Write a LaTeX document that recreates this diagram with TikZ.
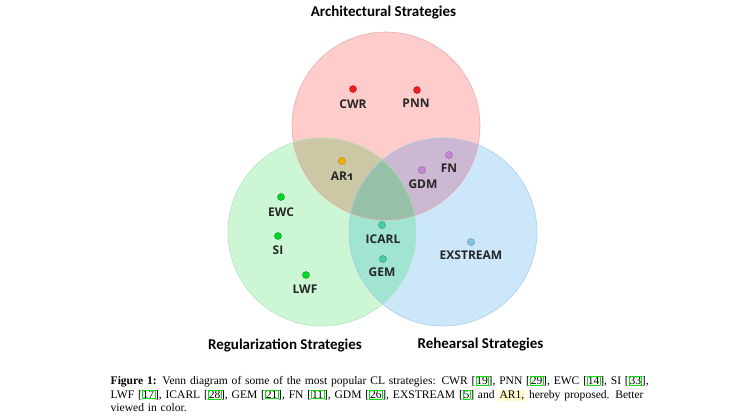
\documentclass[tikz,border=0pt]{standalone}
\usepackage{fontspec}
\setmainfont{Liberation Serif}
\newfontfamily\diafont{Carlito}
\newfontfamily\labfont{Open Sans}[Numbers=OldStyle]
\usetikzlibrary{calc}
\definecolor{redfill}{RGB}{255,204,204}
\definecolor{greenfill}{RGB}{204,246,212}
\definecolor{bluefill}{RGB}{204,230,250}
\definecolor{rgfill}{RGB}{204,200,166}
\definecolor{rbfill}{RGB}{204,184,210}
\definecolor{gbfill}{RGB}{162,228,210}
\definecolor{rgbfill}{RGB}{150,192,168}
\definecolor{redline}{RGB}{232,160,160}
\definecolor{greenline}{RGB}{170,225,180}
\definecolor{blueline}{RGB}{160,200,230}
\definecolor{linkgreen}{RGB}{0,230,0}
\definecolor{hiyellow}{RGB}{255,250,200}
\newcommand{\citebox}[1]{[{\color{linkgreen}\fbox{\color{black}#1}}]}
\tikzset{
  dotmark/.style={circle, inner sep=0pt, minimum size=7pt, draw=#1!70!black, line width=0.4pt, fill=#1},
  lbl/.style={font=\labfont\bfseries\fontsize{12}{14}\selectfont, text=black!85, inner sep=1pt},
  title/.style={font=\diafont\bfseries\fontsize{15}{18}\selectfont, inner sep=0pt},
}
\definecolor{dred}{RGB}{240,30,30}
\definecolor{dorange}{RGB}{245,175,0}
\definecolor{dpurple}{RGB}{200,135,215}
\definecolor{dgreen}{RGB}{0,215,40}
\definecolor{dteal}{RGB}{70,205,170}
\definecolor{dblue}{RGB}{130,200,225}
\begin{document}
\begin{tikzpicture}[x=1pt,y=-1pt]
\useasboundingbox (0,0) rectangle (747,416);
\fill[white] (0,0) rectangle (747,416);
% circles
\coordinate (cR) at (386,126);
\coordinate (cG) at (322,232);
\coordinate (cB) at (443,232);
\def\rad{94}
\fill[redfill] (cR) circle (\rad);
\fill[greenfill] (cG) circle (\rad);
\fill[bluefill] (cB) circle (\rad);
\begin{scope}
  \clip (cR) circle (\rad);
  \fill[rgfill] (cG) circle (\rad);
  \fill[rbfill] (cB) circle (\rad);
\end{scope}
\begin{scope}
  \clip (cG) circle (\rad);
  \fill[gbfill] (cB) circle (\rad);
  \clip (cB) circle (\rad);
  \fill[rgbfill] (cR) circle (\rad);
\end{scope}
\draw[redline, line width=0.6pt, opacity=0.8] (cR) circle (\rad);
\draw[greenline, line width=0.6pt, opacity=0.8] (cG) circle (\rad);
\draw[blueline, line width=0.6pt, opacity=0.8] (cB) circle (\rad);
% titles
\node[title] (tA) at (383.5,13) {Architectural Strategies};
\node[title] (tR) at (285,345) {Regularization Strategies};
\node[title] (tH) at (480.5,345) {Rehearsal Strategies};
% dots and labels
\node[dotmark=dred] (dCWR) at (353,89) {};
\node[lbl] (lCWR) at (353,104) {CWR};
\node[dotmark=dred] (dPNN) at (417,90) {};
\node[lbl] (lPNN) at (416,103) {PNN};
\node[dotmark=dorange] (dAR) at (342,161) {};
\node[lbl] (lAR) at (342,176) {AR1};
\node[dotmark=dpurple] (dFN) at (449,155) {};
\node[lbl] (lFN) at (449,168) {FN};
\node[dotmark=dpurple] (dGDM) at (422,170) {};
\node[lbl] (lGDM) at (423,184) {GDM};
\node[dotmark=dgreen] (dEWC) at (281,197) {};
\node[lbl] (lEWC) at (281,212) {EWC};
\node[dotmark=dgreen] (dSI) at (278,236) {};
\node[lbl] (lSI) at (278,250) {SI};
\node[dotmark=dgreen] (dLWF) at (306,275) {};
\node[lbl] (lLWF) at (305,289) {LWF};
\node[dotmark=dteal] (dIC) at (382,225) {};
\node[lbl] (lIC) at (383,239) {ICARL};
\node[dotmark=dteal] (dGEM) at (383,259) {};
\node[lbl] (lGEM) at (382,272) {GEM};
\node[dotmark=dblue] (dEX) at (471,242) {};
\node[lbl] (lEX) at (471,255) {EXSTREAM};
% caption
\node[anchor=north west, inner sep=0pt, align=left, text width=640pt,
  font=\fontsize{11.55}{13.5}\selectfont] (cap) at (110.5,376) {%
\setlength{\fboxsep}{0.3pt}\setlength{\fboxrule}{0.5pt}%
\textbf{Figure 1:} Venn diagram of some of the most popular CL strategies: CWR \citebox{19}, PNN \citebox{29}, EWC \citebox{14}, SI \citebox{33},\\
LWF \citebox{17}, ICARL \citebox{28}, GEM \citebox{21}, FN \citebox{11}, GDM \citebox{26}, EXSTREAM \citebox{5} and {\setlength{\fboxsep}{1pt}\colorbox{hiyellow}{AR1,}} hereby proposed. Better\\
viewed in color.};
\end{tikzpicture}
\end{document}
